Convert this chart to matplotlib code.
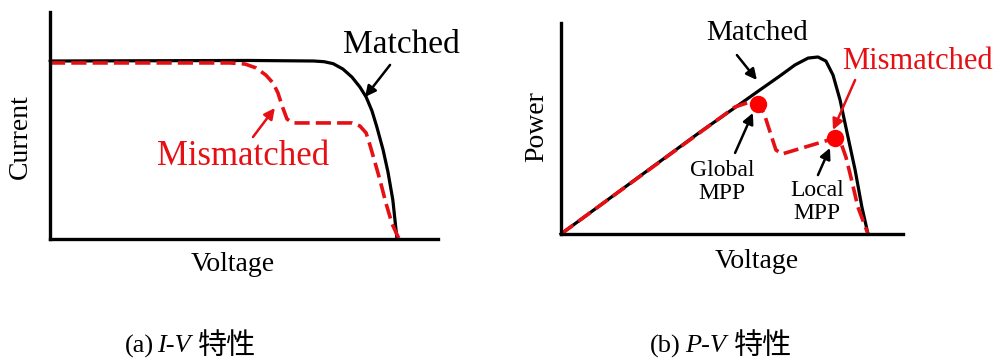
import matplotlib
matplotlib.use("Agg")
import matplotlib.pyplot as plt

# normalised I-V curves (voltage / Voc, current / Isc)
iv_v_matched = [0.000, 0.576, 0.760, 0.790, 0.816, 0.844, 0.870, 0.893, 0.911,
                0.928, 0.942, 0.960, 0.974, 0.988, 1.000]
iv_i_matched = [1.000, 1.003, 1.000, 0.996, 0.985, 0.955, 0.910, 0.854, 0.798,
                0.719, 0.629, 0.500, 0.376, 0.219, 0.000]

iv_v_mismatched = [0.000, 0.519, 0.562, 0.594, 0.622, 0.643, 0.657, 0.669,
                   0.683, 0.700, 0.870, 0.893, 0.911, 0.922, 0.937, 0.951,
                   0.968, 0.986, 1.006]
iv_i_mismatched = [0.989, 0.989, 0.983, 0.961, 0.921, 0.876, 0.820, 0.747,
                   0.674, 0.652, 0.652, 0.635, 0.596, 0.528, 0.427, 0.331,
                   0.202, 0.084, 0.000]

# normalised P-V curves (voltage / Voc, power / Pmax)
pv_v_matched = [0.000, 0.453, 0.583, 0.648, 0.713, 0.762, 0.805, 0.837,
                0.863, 0.886, 0.909, 0.932, 0.958, 0.980, 1.000]
pv_p_matched = [0.000, 0.576, 0.734, 0.814, 0.893, 0.955, 0.994, 1.000,
                0.977, 0.898, 0.757, 0.571, 0.362, 0.153, 0.000]

pv_v_mismatched = [0.000, 0.567, 0.616, 0.642, 0.661, 0.681, 0.700, 0.720,
                   0.893, 0.912, 0.928, 0.945, 0.967, 1.000]
pv_p_mismatched = [0.000, 0.718, 0.746, 0.734, 0.684, 0.576, 0.475, 0.452,
                   0.542, 0.514, 0.435, 0.316, 0.153, 0.000]

# maximum power points on the mismatched curve
mpp_global = (0.642, 0.734)
mpp_local = (0.893, 0.542)

RED = "#e60f14"
DOT = "#ff0000"
SERIF = ["Liberation Serif", "Noto Sans CJK SC"]
CJK = ["Noto Sans CJK SC"]

W, H = 996, 360
fig = plt.figure(figsize=(W / 100, H / 100), dpi=100)


def px_axes(x0, x1, y_top, y_bot):
    return fig.add_axes([x0 / W, 1 - y_bot / H, (x1 - x0) / W, (y_bot - y_top) / H])


def style_axes(ax, xmax, ymax):
    ax.set_xlim(0, xmax)
    ax.set_ylim(0, ymax)
    for s in ("top", "right"):
        ax.spines[s].set_visible(False)
    for s in ("left", "bottom"):
        ax.spines[s].set_linewidth(2.4)
        ax.spines[s].set_color("black")
    ax.set_xticks([])
    ax.set_yticks([])
    ax.patch.set_alpha(0)


arrow_k = dict(arrowstyle="-|>", color="black", lw=1.8, mutation_scale=16,
               shrinkA=0, shrinkB=0)
arrow_r = dict(arrow_k, color=RED)

# (a) I-V
ax1 = px_axes(50, 438, 12, 239)
style_axes(ax1, 388 / 347, 227 / 178)
ax1.plot(iv_v_matched, iv_i_matched, color="black", lw=2.3,
         solid_capstyle="round", clip_on=False)
ax1.plot(iv_v_mismatched, iv_i_mismatched, color=RED, lw=2.6,
         dashes=(4.2, 1.7), clip_on=False)
ax1.text(1.014, 1.09, "Matched", family=SERIF, fontsize=24, ha="center", va="center")
ax1.annotate("", xy=(0.908, 0.798), xytext=(0.980, 0.978), arrowprops=arrow_k)
ax1.text(0.556, 0.461, "Mismatched", family=SERIF, fontsize=25, color=RED,
         ha="center", va="center")
ax1.annotate("", xy=(0.648, 0.736), xytext=(0.585, 0.573), arrowprops=arrow_r)
ax1.text(-0.086, 0.573, "Current", family=SERIF, fontsize=20, rotation=90,
         ha="center", va="center")
ax1.text(0.527, -0.146, "Voltage", family=SERIF, fontsize=20, ha="center", va="center")

# (b) P-V
ax2 = px_axes(561, 903, 23, 234)
style_axes(ax2, 342 / 307, 211 / 177)
ax2.plot(pv_v_matched, pv_p_matched, color="black", lw=2.3, clip_on=False)
ax2.plot(pv_v_mismatched, pv_p_mismatched, color=RED, lw=2.6,
         dashes=(4.2, 1.7), clip_on=False)
ax2.plot(*mpp_global, "o", color=DOT, ms=11.5, zorder=5, clip_on=False)
ax2.plot(*mpp_local, "o", color=DOT, ms=11.5, zorder=5, clip_on=False)
ax2.text(0.638, 1.136, "Matched", family=SERIF, fontsize=21, ha="center", va="center")
ax2.annotate("", xy=(0.638, 0.870), xytext=(0.573, 1.011), arrowprops=arrow_k)
ax2.text(1.160, 0.972, "Mismatched", family=SERIF, fontsize=22, color=RED,
         ha="center", va="center")
ax2.annotate("", xy=(0.886, 0.588), xytext=(0.958, 0.870), arrowprops=arrow_r)
ax2.text(0.524, 0.294, "Global\nMPP", family=SERIF, fontsize=17, ha="center",
         va="center", linespacing=1.1)
ax2.annotate("", xy=(0.625, 0.684), xytext=(0.567, 0.458), arrowprops=arrow_k)
ax2.text(0.834, 0.181, "Local\nMPP", family=SERIF, fontsize=17, ha="center",
         va="center", linespacing=1.1)
ax2.annotate("", xy=(0.876, 0.486), xytext=(0.837, 0.333), arrowprops=arrow_k)
ax2.text(-0.078, 0.605, "Power", family=SERIF, fontsize=20, rotation=90,
         ha="center", va="center")
ax2.text(0.638, -0.158, "Voltage", family=SERIF, fontsize=20, ha="center", va="center")

# sub-figure captions
cy = 1 - 346 / H
fig.text(125 / W, cy, "(a)", family=SERIF, fontsize=19, va="center")
fig.text(157 / W, cy, "I-V", family=SERIF, fontsize=19, style="italic", va="center")
fig.text(198 / W, cy, "特性", family=CJK, fontsize=21, va="center")
fig.text(650 / W, cy, "(b)", family=SERIF, fontsize=19, va="center")
fig.text(685 / W, cy, "P-V", family=SERIF, fontsize=19, style="italic", va="center")
fig.text(734 / W, cy, "特性", family=CJK, fontsize=21, va="center")

fig.savefig("out.png", dpi=100, facecolor="white")
